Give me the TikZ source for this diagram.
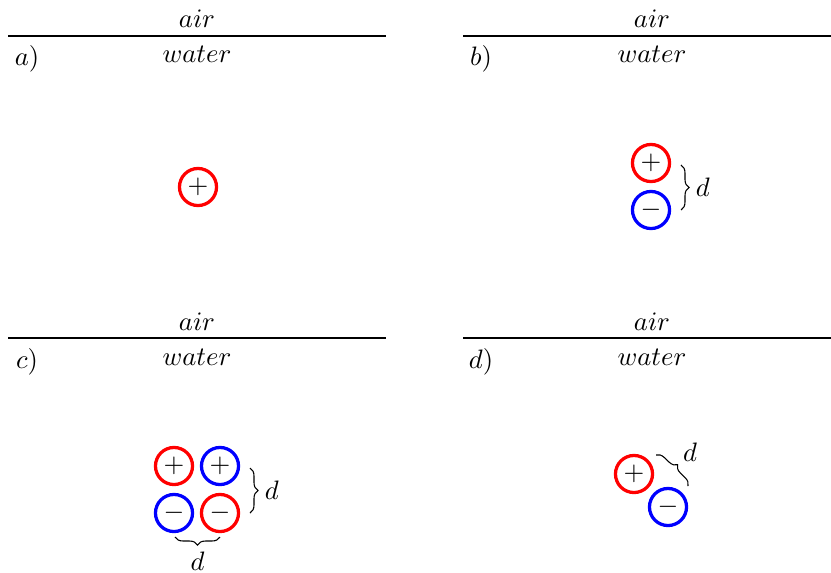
\documentclass[tikz,border=0pt]{standalone}
\usetikzlibrary{decorations.pathreplacing}
\begin{document}
\begin{tikzpicture}[x=0.375pt,y=-0.375pt,
  ion/.style={circle,draw,line width=1.22pt,inner sep=0pt,minimum size=13.9pt},
  posion/.style={ion,red},
  negion/.style={ion,blue},
  surf/.style={line width=0.4pt},
  brc/.style={decorate,decoration={brace,amplitude=3pt},line width=0.4pt}]
\useasboundingbox (0,0) rectangle (831,572);
% panel a
\draw[surf] (8,36) coordinate (la1) -- (386,36) coordinate (la2);
\node (aira) at (197,19) {$air$};
\node (watera) at (197,54) {$water$};
\node (laba) at (27,59) {$a)$};
\node[posion] (pa) at (198,187) {\color{black}$+$};
% panel b
\draw[surf] (463,36) coordinate (lb1) -- (831,36) coordinate (lb2);
\node (airb) at (652,19) {$air$};
\node (waterb) at (652,54) {$water$};
\node (labb) at (481,59) {$b)$};
\node[posion] (pb) at (651,163) {\color{black}$+$};
\node[negion] (nb) at (651,210) {\color{black}$-$};
\coordinate (bb1) at (681,165);
\coordinate (bb2) at (681,210);
\draw[brc] (bb1) -- (bb2) node[midway,right=2pt] (db) {$d$};
% panel c
\draw[surf] (8,338) coordinate (lc1) -- (386,338) coordinate (lc2);
\node (airc) at (197,322) {$air$};
\node (waterc) at (197,357) {$water$};
\node (labc) at (27,362) {$c)$};
\node[posion] (pc1) at (174,466) {\color{black}$+$};
\node[negion] (pc2) at (220,466) {\color{black}$+$};
\node[negion] (nc1) at (174,513) {\color{black}$-$};
\node[posion] (nc2) at (220,513) {\color{black}$-$};
\coordinate (cb1) at (250,468);
\coordinate (cb2) at (250,513);
\draw[brc] (cb1) -- (cb2) node[midway,right=2pt] (dc1) {$d$};
\coordinate (cb3) at (220,537);
\coordinate (cb4) at (175,537);
\draw[brc] (cb3) -- (cb4) node[midway,below=2pt] (dc2) {$d$};
% panel d
\draw[surf] (463,338) coordinate (ld1) -- (831,338) coordinate (ld2);
\node (aird) at (652,322) {$air$};
\node (waterd) at (652,357) {$water$};
\node (labd) at (481,362) {$d)$};
\node[posion] (pd) at (634,474) {\color{black}$+$};
\node[negion] (nd) at (668,507) {\color{black}$-$};
\coordinate (db1) at (656,455);
\coordinate (db2) at (688,486);
\draw[brc] (db1) -- (db2);
\node (dd) at (690,452) {$d$};
\end{tikzpicture}
\end{document}
